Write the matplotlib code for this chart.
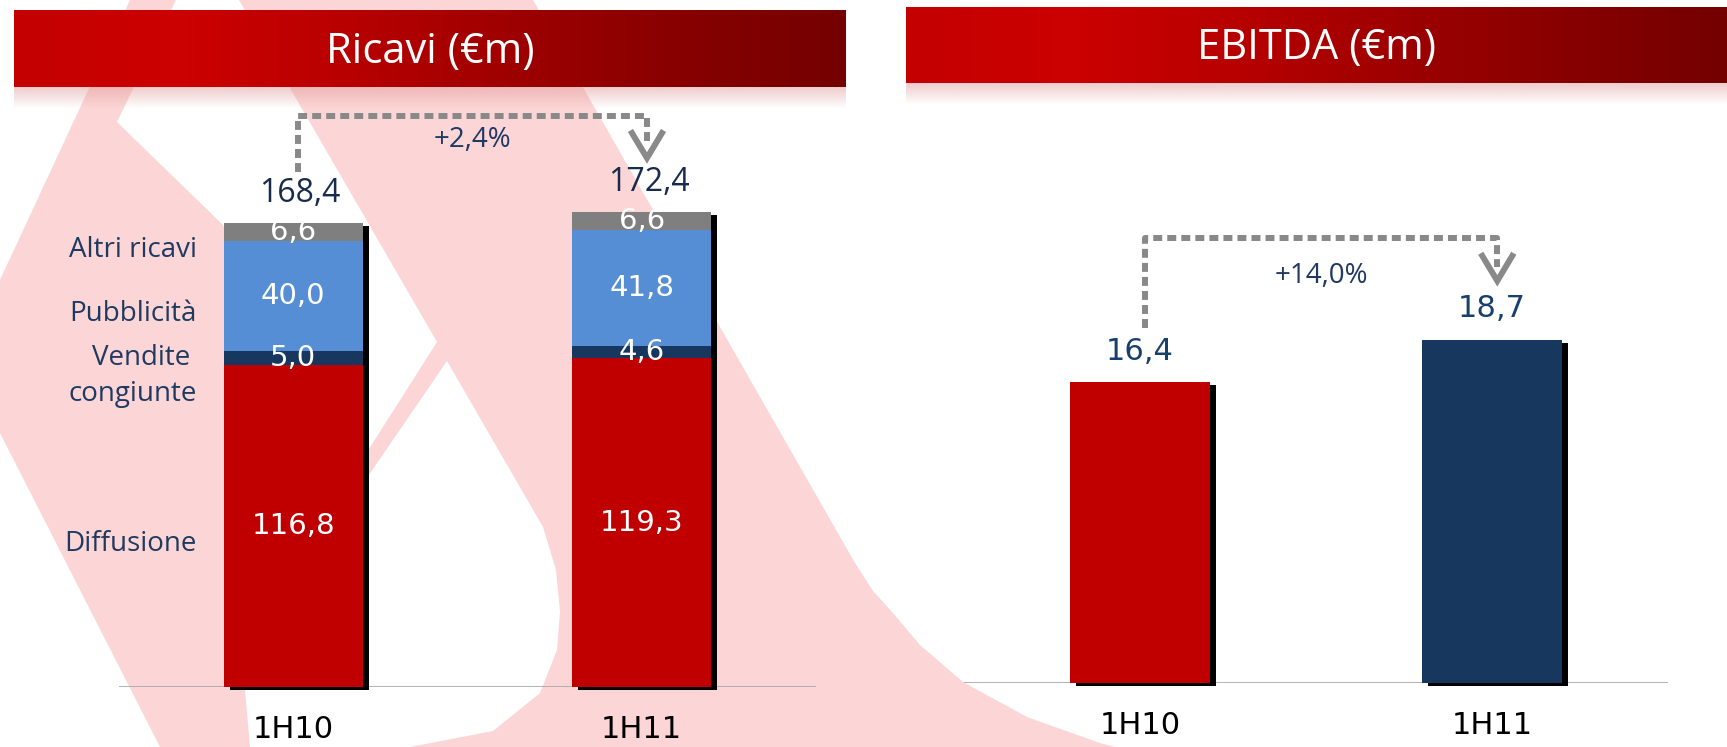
import numpy as np
import matplotlib
matplotlib.use("Agg")
import matplotlib.pyplot as plt
from matplotlib import transforms
from matplotlib.colors import LinearSegmentedColormap
from matplotlib.patches import Polygon

# --- dati -------------------------------------------------------------
periodi = ["1H10", "1H11"]

voci = ["Diffusione", "Vendite \ncongiunte", "Pubblicità", "Altri ricavi"]
diffusione = [116.8, 119.3]
vendite_congiunte = [5.0, 4.6]
pubblicita = [40.0, 41.8]
altri_ricavi = [6.6, 6.6]
ricavi_tot = [168.4, 172.4]

ebitda = [16.4, 18.7]

# --- stile ------------------------------------------------------------
RED = "#C00000"
NAVY = "#17375E"
LBLUE = "#558ED5"
GREY = "#7F7F7F"
DOT = "#898989"
PINK = "#FCD6D6"
CAL = ["Open Sans", "DejaVu Sans"]
W, H = 1727, 747

fig = plt.figure(figsize=(W / 100, H / 100), dpi=100)
fig.patch.set_facecolor("white")


def rect(x0, y0, x1, y1):
    # pixel box (y from top) -> figure fraction
    return [x0 / W, 1 - y1 / H, (x1 - x0) / W, (y1 - y0) / H]


def fmt(v):
    return f"{v:.1f}".replace(".", ",")


def px(ax, n):
    y0, y1 = ax.get_ylim()
    return n * (y1 - y0) / (ax.get_position().height * fig.bbox.height)


# --- filigrana di sfondo ----------------------------------------------
bg = fig.add_axes([0, 0, 1, 1], zorder=0)
bg.set_xlim(0, W)
bg.set_ylim(H, 0)
bg.axis("off")
outer = [(130, 0), (533, 0), (855, 563), (873, 591), (893, 613), (920, 645),
         (963, 682), (1027, 717), (1100, 743), (1115, 747), (160, 747),
         (0, 433), (0, 280)]
notch = [(176, 0), (239, 0), (437, 342), (360, 463), (222, 224), (117, 122)]
goccia = [(447, 361), (543, 527), (556, 570), (560, 612), (557, 650),
          (540, 693), (493, 731), (410, 747), (250, 747), (245, 690),
          (290, 600), (360, 488)]
bg.add_patch(Polygon(outer, closed=True, fc=PINK, ec="none"))
for hole in (notch, goccia):
    bg.add_patch(Polygon(hole, closed=True, fc="white", ec="none"))

# --- intestazioni -----------------------------------------------------
head_cmap = LinearSegmentedColormap.from_list(
    "head", ["#C40000", "#CC0000", "#B80000", "#9E0000", "#880000", "#740000"])


def header(box, title):
    hax = fig.add_axes(rect(*box), zorder=5)
    hax.imshow(np.linspace(0, 1, 512)[None, :], aspect="auto", cmap=head_cmap,
               extent=(0, 1, 0, 1))
    hax.set_xlim(0, 1)
    hax.set_ylim(0, 1)
    hax.axis("off")
    hax.text(0.5, 0.46, title, ha="center", va="center", color="white",
             fontsize=30, family=CAL)
    sh = fig.add_axes(rect(box[0], box[3], box[2], box[3] + 22), zorder=4)
    grad = np.zeros((32, 1, 4))
    grad[..., :3] = (0.88, 0.6, 0.6)
    grad[:, 0, 3] = np.linspace(0.5, 0, 32)
    sh.imshow(grad, aspect="auto", extent=(0, 1, 0, 1))
    sh.axis("off")


header((14, 10, 846, 87), "Ricavi (€m)")
header((906, 7, 1727, 83), "EBITDA (€m)")


def base_axes(box, ytop):
    ax = fig.add_axes(rect(*box), zorder=2)
    ax.patch.set_alpha(0)
    ax.set_xlim(-0.5, 1.5)
    ax.set_ylim(0, ytop)
    for s in ax.spines.values():
        s.set_visible(False)
    ax.set_yticks([])
    ax.set_xticks(range(len(periodi)), periodi)
    ax.tick_params(axis="x", length=0, pad=20, labelsize=22, labelcolor="black")
    ax.axhline(0, color="#A6A6A6", lw=1.2, zorder=0)
    return ax


def shadow(ax, x, h, w):
    tr = transforms.offset_copy(ax.transData, fig=fig, x=6, y=-3, units="dots")
    ax.bar(x, h, w, color="black", transform=tr, clip_on=False, zorder=1)


def connector(ax, xa, xb, ya, yb, dy_low_a, dy_top, dy_tip, label, dy_lab, color):
    y0 = ya + px(ax, dy_low_a)
    yt = max(ya, yb) + px(ax, dy_top)
    ytip = yb + px(ax, dy_tip)
    ax.plot([xa, xa, xb, xb], [y0, yt, yt, ytip + px(ax, 18)], color=DOT,
            lw=4.3, linestyle=(0, (1.5, 0.85)), zorder=3)
    tr = fig.dpi_scale_trans + transforms.ScaledTranslation(xb, ytip, ax.transData)
    ax.plot([-0.15, 0, 0.15], [0.29, 0.04, 0.29], color=DOT, lw=4.3,
            transform=tr, solid_joinstyle="miter", zorder=3)
    ax.text((xa + xb) / 2, yt - px(ax, dy_lab), label, ha="center", va="center",
            fontsize=20, family=CAL, color=color)


x = np.arange(len(periodi))
bw = 0.40

# --- Ricavi -----------------------------------------------------------
ax1 = base_axes((119, 95, 816, 687), 592 / 2.755)
stack = [diffusione, vendite_congiunte, pubblicita, altri_ricavi]
colori = [RED, NAVY, LBLUE, GREY]
shadow(ax1, x, np.sum(stack, axis=0), bw)
bottom = np.zeros(len(periodi))
mid_first = []
for vals, col in zip(stack, colori):
    ax1.bar(x, vals, bw, bottom=bottom, color=col, zorder=2)
    for xi, b, v in zip(x, bottom, vals):
        ax1.text(xi, b + v / 2, fmt(v), ha="center", va="center", color="white",
                 fontsize=21, zorder=4)
    mid_first.append(bottom[0] + vals[0] / 2)
    bottom = bottom + np.array(vals)

for lab, m in zip(voci, mid_first):
    ax1.text(-0.276, m - 6.5, lab, ha="right", va="center", fontsize=20,
             family=CAL, color="#1F3A60", linespacing=1.4, multialignment="right")

for xi, t in zip(x, ricavi_tot):
    ax1.text(xi + 0.02, t + px(ax1, 30), fmt(t), ha="center", va="center",
             fontsize=23, family=CAL, color="#172B4D")

g1 = (ricavi_tot[1] / ricavi_tot[0] - 1) * 100
connector(ax1, x[0] + 0.015, x[1] + 0.015, ricavi_tot[0], ricavi_tot[1],
          51, 96, 50, "+" + fmt(g1) + "%", 24, "#1F3864")

# --- EBITDA -----------------------------------------------------------
ax2 = base_axes((964, 95, 1668, 683), 588 / 18.35)
shadow(ax2, x, ebitda, bw)
ax2.bar(x, ebitda, bw, color=[RED, NAVY], zorder=2)
for xi, v in zip(x, ebitda):
    ax2.text(xi, v + px(ax2, 31), fmt(v), ha="center", va="center", fontsize=22,
             color="#17406E")

g2 = (ebitda[1] / ebitda[0] - 1) * 100
connector(ax2, x[0] + 0.015, x[1] + 0.015, ebitda[0], ebitda[1],
          54, 102, 55, "+" + fmt(g2) + "%", 38, "#1F3864")

fig.savefig("out.png", dpi=100)
